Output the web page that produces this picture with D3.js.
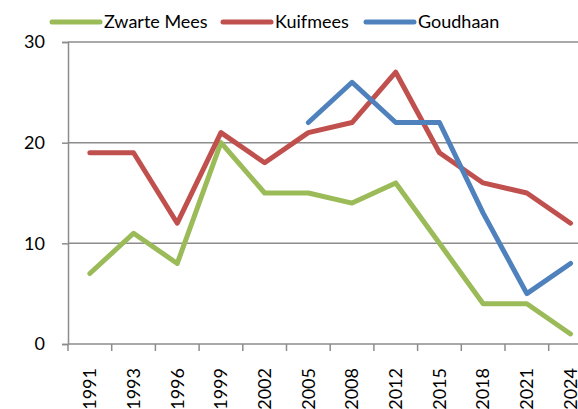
<!DOCTYPE html>
<html><head><meta charset="utf-8">
<script src="https://cdn.jsdelivr.net/npm/d3@7"></script>
<style>body{margin:0;background:#fff;overflow:hidden}svg{display:block}</style>
</head><body>
<svg id="c" width="578" height="409"></svg>
<script>
const years = ["1991","1993","1996","1999","2002","2005","2008","2012","2015","2018","2021","2024"];
const zwarteMees = [7,11,8,20,15,15,14,16,10,4,4,1];
const kuifmees = [19,19,12,21,18,21,22,27,19,16,15,12];
const goudhaan = [null,null,null,null,null,22,26,22,22,13,5,8];
const yTicks = [0,10,20,30];
const seriesNames = ["Zwarte Mees","Kuifmees","Goudhaan"];
const colors = ["#9BBB59","#C0504D","#4F81BD"];

const series = [zwarteMees,kuifmees,goudhaan].map((v,i)=>({name:seriesNames[i],color:colors[i],values:v}));
const svg = d3.select("#c");
const font = "Lato, 'Liberation Sans', sans-serif";
const mLeft = 68, mBottom = 344, mTop = 42;
const bandW = 43.7;
const x = d3.scaleBand().domain(years).range([mLeft, mLeft + bandW*years.length]).paddingInner(0).paddingOuter(0);
const y = d3.scaleLinear().domain([0,30]).range([mBottom, mTop]);

// gridlines
svg.append("g").selectAll("line").data(yTicks.filter(t=>t>0)).join("line")
  .attr("x1", mLeft).attr("x2", 578).attr("y1", d=>y(d)).attr("y2", d=>y(d))
  .attr("stroke","#8c8c8c").attr("stroke-width",1.5);

// y axis
const ya = svg.append("g").attr("transform",`translate(${mLeft},0)`)
  .call(d3.axisLeft(y).tickValues(yTicks).tickSize(6).tickPadding(17).tickFormat(d3.format("d")));
ya.select(".domain").attr("stroke","#8c8c8c").attr("stroke-width",1.5);
ya.selectAll(".tick line").attr("stroke","#8c8c8c").attr("stroke-width",1.5);
ya.selectAll("text").attr("font-family",font).attr("font-size",18).attr("fill","#000");

// x axis
const xa = svg.append("g").attr("transform",`translate(0,${mBottom})`)
  .call(d3.axisBottom(x).tickSize(0).tickFormat(""));
xa.select(".domain").attr("stroke","#8c8c8c").attr("stroke-width",1.5).attr("d",`M${mLeft},0H578`);
xa.selectAll(".tick").remove();
const bounds = years.map(d=>x(d)).concat([x(years[years.length-1])+x.bandwidth()]);
svg.append("g").selectAll("line").data(bounds).join("line")
  .attr("x1",d=>d).attr("x2",d=>d).attr("y1",mBottom).attr("y2",mBottom+7)
  .attr("stroke","#8c8c8c").attr("stroke-width",1.5);
svg.append("g").selectAll("text").data(years).join("text")
  .attr("transform",d=>`translate(${x(d)+x.bandwidth()/2},368) rotate(-90)`)
  .attr("text-anchor","end").attr("dy","0.35em")
  .attr("font-family",font).attr("font-size",18).attr("fill","#000")
  .text(d=>d);

// lines
const line = d3.line().defined(d=>d.v!=null)
  .x(d=>x(d.k)+x.bandwidth()/2).y(d=>y(d.v));
svg.append("g").selectAll("path").data(series).join("path")
  .attr("d", s=>line(s.values.map((v,i)=>({k:years[i],v}))))
  .attr("fill","none").attr("stroke",s=>s.color).attr("stroke-width",5)
  .attr("stroke-linecap","round").attr("stroke-linejoin","round");

// legend
const legX = [52,223,366];
const lg = svg.append("g").selectAll("g").data(series).join("g")
  .attr("transform",(d,i)=>`translate(${legX[i]},22)`);
lg.append("line").attr("x1",0).attr("x2",48).attr("y1",0).attr("y2",0)
  .attr("stroke",d=>d.color).attr("stroke-width",5).attr("stroke-linecap","round");
lg.append("text").attr("x",52).attr("y",0).attr("dy","0.35em")
  .attr("font-family",font).attr("font-size",18).attr("fill","#000")
  .text(d=>d.name);
</script>
</body></html>
